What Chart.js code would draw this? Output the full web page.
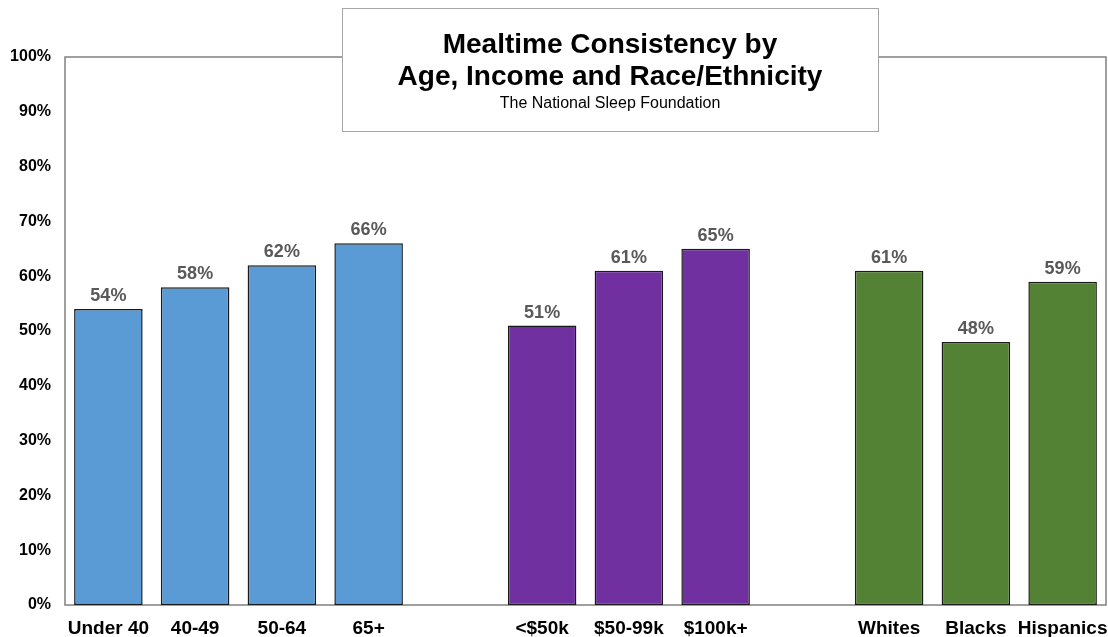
<!DOCTYPE html>
<html>
<head>
<meta charset="utf-8">
<style>
  html, body { margin: 0; padding: 0; background: #ffffff; }
  #wrap { width: 1108px; height: 637px; position: relative; }
</style>
<script src="https://cdn.jsdelivr.net/npm/chart.js@4/dist/chart.umd.min.js"></script>
</head>
<body>
<div id="wrap"><canvas id="chart" width="1108" height="637"></canvas></div>
<script>
// Category groups (empty slots separate age, income and race/ethnicity)
const categories = ['Under 40', '40-49', '50-64', '65+', '', '<$50k', '$50-99k', '$100k+', '', 'Whites', 'Blacks', 'Hispanics'];
const ageValues = [54, 58, 62, 66];
const incomeValues = [51, 61, 65];
const raceValues = [61, 48, 59];
const yTickLabels = ['0%', '10%', '20%', '30%', '40%', '50%', '60%', '70%', '80%', '90%', '100%'];

const titleLines = ['Mealtime Consistency by', 'Age, Income and Race/Ethnicity'];
const subtitleText = 'The National Sleep Foundation';

const colorAge = '#5B9BD5';
const colorIncome = '#7030A0';
const colorRace = '#548235';

const values = [...ageValues, null, ...incomeValues, null, ...raceValues];
const colors = [
  ...ageValues.map(() => colorAge), 'rgba(0,0,0,0)',
  ...incomeValues.map(() => colorIncome), 'rgba(0,0,0,0)',
  ...raceValues.map(() => colorRace)
];

const FONT = '"Liberation Sans", Arial, sans-serif';

// Frame around the plotting area
const framePlugin = {
  id: 'frame',
  beforeDatasetsDraw(chart) {
    const { ctx, chartArea: a } = chart;
    ctx.save();
    ctx.strokeStyle = '#808080';
    ctx.lineWidth = 1.5;
    ctx.strokeRect(a.left, a.top, a.right - a.left, a.bottom - a.top);
    ctx.restore();
  }
};

// Category names under the bars, placed through the x scale
const categoryLabelPlugin = {
  id: 'categoryLabels',
  afterDraw(chart) {
    const { ctx } = chart;
    const xs = chart.scales.x;
    ctx.save();
    ctx.font = 'bold 19px ' + FONT;
    ctx.fillStyle = '#000000';
    ctx.textAlign = 'center';
    ctx.textBaseline = 'alphabetic';
    categories.forEach((c, i) => {
      if (!c) return;
      ctx.fillText(c, xs.getPixelForValue(i), chart.chartArea.bottom + 29);
    });
    ctx.restore();
  }
};

// Percentage labels above each bar
const valueLabelPlugin = {
  id: 'valueLabels',
  afterDatasetsDraw(chart) {
    const { ctx } = chart;
    const meta = chart.getDatasetMeta(0);
    ctx.save();
    ctx.font = 'bold 18px ' + FONT;
    ctx.fillStyle = '#595959';
    ctx.textAlign = 'center';
    ctx.textBaseline = 'alphabetic';
    meta.data.forEach((bar, i) => {
      const v = chart.data.datasets[0].data[i];
      if (v === null || v === undefined) return;
      ctx.fillText(v + '%', bar.x, bar.y - 8);
    });
    ctx.restore();
  }
};

// Title box overlapping the top of the plot
const titleBoxPlugin = {
  id: 'titleBox',
  afterDraw(chart) {
    const { ctx } = chart;
    const x = 342, y = 8, w = 536, h = 123;
    const cx = x + w / 2;
    ctx.save();
    ctx.fillStyle = '#ffffff';
    ctx.fillRect(x, y, w, h);
    ctx.strokeStyle = '#a6a6a6';
    ctx.lineWidth = 1;
    ctx.strokeRect(x + 0.5, y + 0.5, w, h);
    ctx.fillStyle = '#000000';
    ctx.textAlign = 'center';
    ctx.textBaseline = 'alphabetic';
    ctx.font = 'bold 28px ' + FONT;
    ctx.fillText(titleLines[0], cx, 53);
    ctx.fillText(titleLines[1], cx, 85);
    ctx.font = '16px ' + FONT;
    ctx.fillText(subtitleText, cx, 108);
    ctx.restore();
  }
};

new Chart(document.getElementById('chart'), {
  type: 'bar',
  data: {
    labels: categories,
    datasets: [{
      data: values,
      backgroundColor: colors,
      borderColor: '#1a1a1a',
      borderWidth: 1.5,
      borderSkipped: false,
      categoryPercentage: 1.0,
      barPercentage: 0.79
    }]
  },
  options: {
    responsive: false,
    animation: false,
    devicePixelRatio: 1,
    layout: { padding: { top: 57, right: 2, left: 0, bottom: 0 } },
    plugins: {
      legend: { display: false },
      tooltip: { enabled: false },
      title: { display: false }
    },
    scales: {
      x: {
        grid: { display: false, drawTicks: false },
        border: { display: false },
        ticks: { display: false },
        afterFit(scale) { scale.height = 32; }
      },
      y: {
        min: 0,
        max: 100,
        grid: { display: false, drawTicks: false },
        border: { display: false },
        ticks: {
          stepSize: 10,
          color: '#000000',
          font: { family: FONT, size: 16, weight: 'bold' },
          padding: 14,
          callback: (v) => yTickLabels[Math.round(v / 10)]
        },
        afterFit(scale) { scale.width = 65; }
      }
    }
  },
  plugins: [framePlugin, valueLabelPlugin, categoryLabelPlugin, titleBoxPlugin]
});
</script>
</body>
</html>
